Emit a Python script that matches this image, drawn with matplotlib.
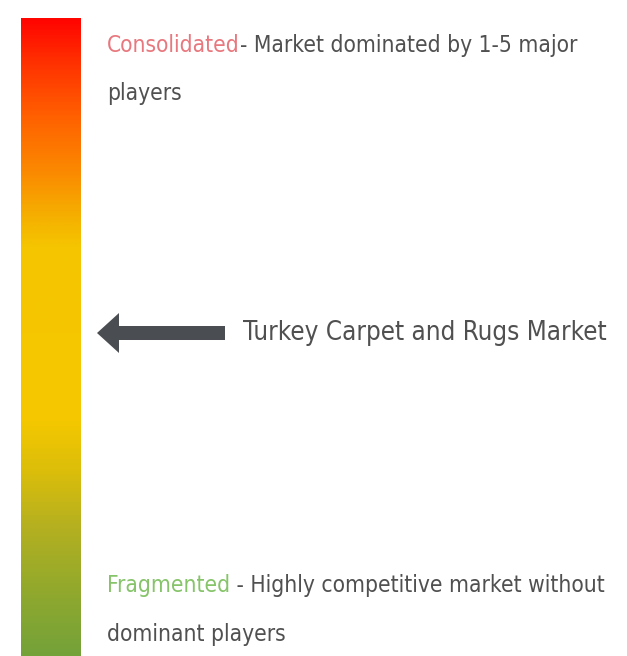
import numpy as np
import matplotlib.pyplot as plt
from matplotlib.colors import LinearSegmentedColormap
from matplotlib.patches import FancyArrow

# gradient stops, top (0) -> bottom (1)
stop_pos = [0.0, 0.066, 0.16, 0.24, 0.31, 0.36, 0.63, 0.71, 0.80, 0.91, 1.0]
stop_colors = ['#ff0500', '#ff3000', '#ff6400', '#fb8a00', '#f5b000', '#f5c600',
               '#f5c800', '#dcbe0a', '#b4b020', '#8ea82e', '#74a23a']

top_label = 'Consolidated'
top_text = ['- Market dominated by 1-5 major', 'players']
bottom_label = 'Fragmented'
bottom_text = [' - Highly competitive market without', 'dominant players']
market_name = 'Turkey Carpet and Rugs Market'

W, H = 627, 656
fig = plt.figure(figsize=(W / 100, H / 100), dpi=100)
ax = fig.add_axes([0, 0, 1, 1])
ax.set_xlim(0, W)
ax.set_ylim(H, 0)
ax.axis('off')

cmap = LinearSegmentedColormap.from_list('conc', list(zip(stop_pos, stop_colors)))
grad = np.linspace(0, 1, 400).reshape(-1, 1)
ax.imshow(grad, cmap=cmap, aspect='auto', extent=(21, 81, H, 18), interpolation='bilinear')

font = 'DejaVu Sans'
grey = '#505050'
kw = dict(family=font, stretch='condensed', va='baseline')

def two_tone(x, y, first, first_color, rest, size):
    t = ax.text(x, y, first, color=first_color, fontsize=size, **kw)
    fig.canvas.draw()
    bb = t.get_window_extent()
    x2 = ax.transData.inverted().transform((bb.x1, bb.y0))[0]
    ax.text(x2, y, rest, color=grey, fontsize=size, **kw)

two_tone(107, 52, top_label, '#e8787e', top_text[0], 16.3)
ax.text(107, 100, top_text[1], color=grey, fontsize=16.3, **kw)

two_tone(107, 592, bottom_label, '#86c46a', bottom_text[0], 16.3)
ax.text(107, 641, bottom_text[1], color=grey, fontsize=16.3, **kw)

arrow = FancyArrow(225, 333, -128, 0, width=14, head_width=40, head_length=22,
                   length_includes_head=True, color='#4a4d52', lw=0)
ax.add_patch(arrow)
ax.text(243, 333, market_name, color=grey, fontsize=18.6, family=font,
        stretch='condensed', va='center')

fig.savefig('out.png', dpi=100)
